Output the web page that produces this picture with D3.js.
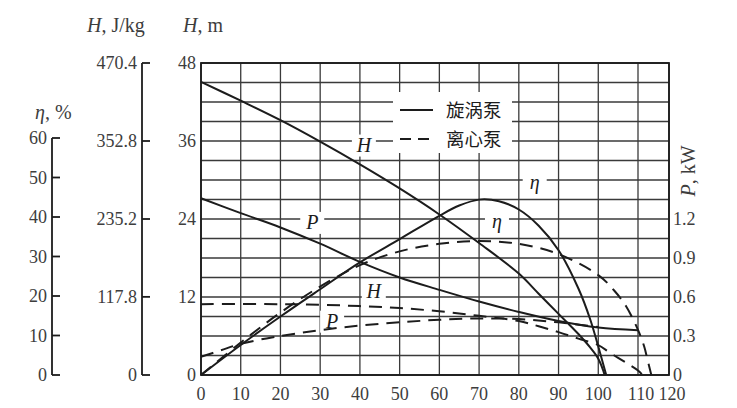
<!DOCTYPE html>
<html><head><meta charset="utf-8">
<script src="https://cdn.jsdelivr.net/npm/d3@7"></script>
<style>body{margin:0;background:#fff}svg{display:block}</style>
</head><body><svg id="c" width="737" height="408"></svg>
<script>
// ---- tick labels ----
const xTicks = [0,10,20,30,40,50,60,70,80,90,100,110,120];
const hTicks = [0,12,24,36,48];
const jTicks = [0,117.8,235.2,352.8,470.4];
const etaTicks = [0,10,20,30,40,50,60];
const pTicks = [0,0.3,0.6,0.9,1.2];
const legendNames = ["旋涡泵","离心泵"];

// ---- vortex pump (solid) : [Q, value] ----
const vortexH = [[0,45.1],[10,42.2],[20,39.2],[30,35.9],[40,32.4],[50,28.7],[60,24.7],[70,20.3],[80,15.6],[85,12.5],[90,9.4],[95,6.3],[98,4.2],[100,2.5],[101.6,0]];
const vortexEta = [[0,0],[10,7.6],[20,14.8],[30,21.7],[40,28.5],[50,34.4],[60,40.3],[65,42.9],[70,44.4],[75,44.0],[80,41.9],[85,37.8],[90,31.6],[95,21.9],[98,14.0],[100,7.2],[102,0]];
const vortexP = [[0,1.36],[10,1.245],[20,1.135],[30,1.01],[40,0.87],[50,0.75],[60,0.655],[70,0.565],[80,0.485],[90,0.415],[100,0.365],[110,0.345]];

// ---- centrifugal pump (dashed) ----
const centH = [[0,10.9],[20,10.9],[30,10.8],[40,10.6],[50,10.3],[60,9.8],[70,9.1],[80,8.3],[85,7.5],[90,6.6],[95,5.6],[100,4.6],[103,3.4],[107,1.9],[110,0.7],[111.5,0]];
const centEta = [[0,0],[10,8.2],[20,15.8],[30,22.4],[40,27.8],[50,31.3],[60,33.2],[70,33.9],[80,33.2],[90,30.6],[100,25.3],[104,21.4],[107,17.4],[110,11.4],[112,7.2],[113,4.1],[114.3,0]];
const centP = [[0,0.14],[5,0.19],[10,0.24],[20,0.30],[30,0.345],[40,0.38],[50,0.405],[60,0.425],[70,0.435],[80,0.43],[90,0.405],[100,0.37]];

const svg = d3.select("#c");
const ink = "#1c1c1c", gridC = "#3a3a3a", txt = "#3d3d3d";
const serif = "'Liberation Serif','DejaVu Serif',serif";
const tickFs = 18, titleFs = 20;

const x = d3.scaleLinear().domain([0,110,120]).range([201,638,669]);
const yH = d3.scaleLinear().domain([0,48]).range([375,63]);
const yJ = d3.scaleLinear().domain([0,470.4]).range([375,63]);
const yEta = d3.scaleLinear().domain([0,60]).range([375,138]);
const yP = d3.scaleLinear().domain([0,2.4]).range([375,63]);

// grid
const g = svg.append("g");
g.selectAll(".v").data(xTicks).enter().append("line")
  .attr("x1",d=>x(d)).attr("x2",d=>x(d)).attr("y1",yH(0)).attr("y2",yH(48))
  .attr("stroke",gridC).attr("stroke-width",1.3);
g.selectAll(".h").data(d3.range(0,49,3)).enter().append("line")
  .attr("x1",x(0)).attr("x2",x(120)).attr("y1",d=>yH(d)).attr("y2",d=>yH(d))
  .attr("stroke",gridC).attr("stroke-width",1.3);
svg.append("rect").attr("x",x(0)).attr("y",yH(48)).attr("width",x(120)-x(0)).attr("height",yH(0)-yH(48))
  .attr("fill","none").attr("stroke",ink).attr("stroke-width",1.8);

// white gaps for labels & legend
const labels = [
  {t:"H", q:41, v:35.3, s:yH},
  {t:"P", q:28, v:1.17, s:yP},
  {t:"H", q:43.5, v:12.7, s:yH},
  {t:"P", q:33, v:0.41, s:yP},
  {t:"η", q:84, v:48.5, s:yEta},
  {t:"η", q:74.5, v:38.8, s:yEta}
];
svg.selectAll(".lb").data(labels).enter().append("rect")
  .attr("x",d=>x(d.q)-12).attr("y",d=>d.s(d.v)-11).attr("width",24).attr("height",22).attr("fill","#fff");
svg.append("rect").attr("x",393).attr("y",92).attr("width",119).attr("height",61).attr("fill","#fff");

// curves
const line = s => d3.line().x(d=>x(d[0])).y(d=>s(d[1])).curve(d3.curveCatmullRom.alpha(0.5));
const series = [
  {d:vortexH,s:yH,dash:null},{d:vortexEta,s:yEta,dash:null},{d:vortexP,s:yP,dash:null},
  {d:centH,s:yH,dash:"13,8"},{d:centEta,s:yEta,dash:"13,8"},{d:centP,s:yP,dash:"13,8"}
];
svg.selectAll(".c").data(series).enter().append("path")
  .attr("d",d=>line(d.s)(d.d)).attr("fill","none").attr("stroke",ink).attr("stroke-width",2)
  .attr("stroke-dasharray",d=>d.dash);

svg.selectAll(".lt").data(labels).enter().append("text")
  .attr("x",d=>x(d.q)).attr("y",d=>d.s(d.v)+6).attr("text-anchor","middle")
  .attr("font-family",serif).attr("font-style","italic").attr("font-size",20).attr("fill",ink).text(d=>d.t);

// legend
const leg = svg.append("g");
legendNames.forEach((n,i)=>{
  const yy = 110 + i*29;
  leg.append("line").attr("x1",400).attr("x2",433).attr("y1",yy).attr("y2",yy)
    .attr("stroke",ink).attr("stroke-width",2).attr("stroke-dasharray",i?"11,7":null);
  leg.append("text").attr("x",446).attr("y",yy+7).attr("font-family","'Noto Sans CJK SC',sans-serif")
    .attr("font-size",18.5).attr("fill",ink).text(n);
});

// x axis labels
svg.selectAll(".xl").data(xTicks).enter().append("text")
  .attr("x",d=>x(d)+(d===110?3:d===120?3:0)).attr("y",400).attr("text-anchor","middle")
  .attr("font-family",serif).attr("font-size",tickFs).attr("fill",txt).text(d=>d);

// left H, m labels
svg.selectAll(".hl").data(hTicks).enter().append("text")
  .attr("x",196).attr("y",d=>yH(d)+6).attr("text-anchor","end")
  .attr("font-family",serif).attr("font-size",tickFs).attr("fill",txt).text(d=>d);

// H, J/kg axis
const jx = 142;
svg.append("line").attr("x1",jx).attr("x2",jx).attr("y1",yJ(0)).attr("y2",yJ(470.4)).attr("stroke",ink).attr("stroke-width",1.8);
svg.selectAll(".jt").data(jTicks).enter().append("line")
  .attr("x1",jx).attr("x2",jx+8).attr("y1",d=>yJ(d)).attr("y2",d=>yJ(d)).attr("stroke",ink).attr("stroke-width",1.8);
svg.selectAll(".jl").data(jTicks).enter().append("text")
  .attr("x",jx-5).attr("y",d=>yJ(d)+6).attr("text-anchor","end")
  .attr("font-family",serif).attr("font-size",tickFs).attr("fill",txt).text(d=>d===0?"0":d.toFixed(1));

// eta axis
const ex = 52;
svg.append("line").attr("x1",ex).attr("x2",ex).attr("y1",yEta(0)).attr("y2",yEta(60)).attr("stroke",ink).attr("stroke-width",1.8);
svg.selectAll(".et").data(etaTicks).enter().append("line")
  .attr("x1",ex).attr("x2",ex+8).attr("y1",d=>yEta(d)).attr("y2",d=>yEta(d)).attr("stroke",ink).attr("stroke-width",1.8);
svg.selectAll(".el").data(etaTicks).enter().append("text")
  .attr("x",ex-5).attr("y",d=>yEta(d)+6).attr("text-anchor","end")
  .attr("font-family",serif).attr("font-size",tickFs).attr("fill",txt).text(d=>d);

// right P axis labels
svg.selectAll(".pl").data(pTicks).enter().append("text")
  .attr("x",673).attr("y",d=>yP(d)+6)
  .attr("font-family",serif).attr("font-size",tickFs).attr("fill",txt).text(d=>d===0?"0":d.toFixed(1));

// axis titles
function title(xp,yp,it,rest,rot){
  const t = svg.append("text").attr("font-family",serif).attr("font-size",titleFs).attr("fill",txt);
  if(rot){ t.attr("transform",`translate(${xp},${yp}) rotate(-90)`).attr("text-anchor","middle"); }
  else { t.attr("x",xp).attr("y",yp); }
  t.append("tspan").attr("font-style","italic").text(it);
  t.append("tspan").text(rest);
}
title(35,119,"η",", %",false);
title(87,32,"H",", J/kg",false);
title(183,32,"H",", m",false);
title(695,171,"P",", kW",true);
</script></body></html>
